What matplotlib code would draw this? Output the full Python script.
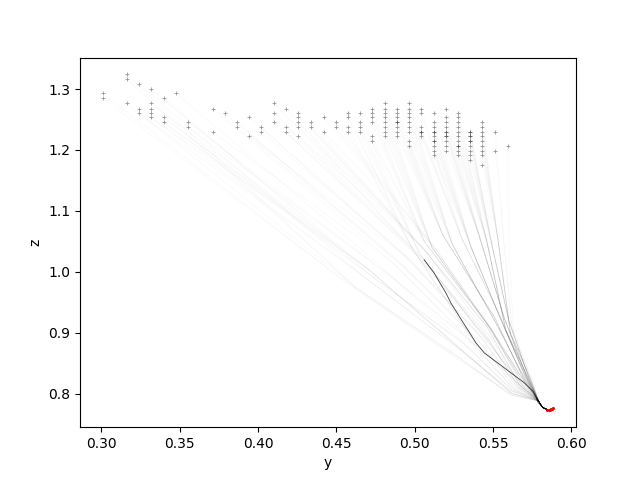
import numpy as np
import matplotlib
matplotlib.use('Agg')
import matplotlib.pyplot as plt

# start columns (y) and the start heights (z) found in each column
col_y = [0.3008, 0.3162, 0.3239, 0.3316, 0.3400, 0.3476, 0.3553, 0.3713,
         0.3790, 0.3867, 0.3944, 0.4021, 0.4104, 0.4181, 0.4258, 0.4335,
         0.4418, 0.4495, 0.4572, 0.4649, 0.4726, 0.4810, 0.4887, 0.4964,
         0.5041, 0.5124, 0.5201, 0.5278, 0.5355, 0.5432, 0.5515, 0.5592]
col_z = [
    [1.293, 1.285],
    [1.324, 1.316, 1.2766],
    [1.3077, 1.268, 1.260],
    [1.2995, 1.2766, 1.268, 1.260, 1.2537],
    [1.2848, 1.2537, 1.2454],
    [1.293],
    [1.2454, 1.2373],
    [1.268, 1.229],
    [1.260],
    [1.2454, 1.2373],
    [1.2537, 1.2226],
    [1.2373, 1.229],
    [1.2766, 1.260, 1.2454],
    [1.268, 1.2373, 1.229],
    [1.260, 1.2537, 1.2454, 1.2373, 1.2226],
    [1.2454, 1.2373],
    [1.2537, 1.229],
    [1.2454, 1.2373],
    [1.260, 1.2537, 1.2373, 1.229],
    [1.260, 1.2454, 1.2373, 1.229],
    [1.268, 1.260, 1.2537, 1.2454, 1.2226, 1.2143],
    [1.2766, 1.268, 1.260, 1.2537, 1.2454, 1.2373, 1.229, 1.2226],
    [1.268, 1.260, 1.2537, 1.2454, 1.2454, 1.2373, 1.229, 1.2226],
    [1.2766, 1.268, 1.260, 1.2537, 1.2454, 1.2373, 1.229, 1.2143, 1.2061],
    [1.268, 1.260, 1.2373, 1.229, 1.229, 1.2226],
    [1.260, 1.2454, 1.2373, 1.229, 1.229, 1.2226, 1.2143, 1.2143, 1.2061, 1.198, 1.1913],
    [1.268, 1.2537, 1.2454, 1.2373, 1.229, 1.229, 1.2226, 1.2226, 1.2143, 1.2061, 1.198],
    [1.260, 1.2537, 1.2454, 1.2373, 1.229, 1.2226, 1.2143, 1.2061, 1.2061, 1.198, 1.1913],
    [1.229, 1.229, 1.2226, 1.2226, 1.2143, 1.2143, 1.2061, 1.198, 1.1913, 1.183],
    [1.2454, 1.2373, 1.229, 1.2226, 1.2143, 1.2061, 1.198, 1.1913, 1.175],
    [1.229, 1.198],
    [1.2061],
]

# waypoints each column's paths pass through on the way down
knee1_y = [0.455, 0.462, 0.466, 0.470, 0.474, 0.478, 0.481, 0.486,
           0.489, 0.492, 0.494, 0.497, 0.500, 0.502, 0.505, 0.508,
           0.511, 0.514, 0.498, 0.503, 0.506, 0.511, 0.518, 0.524,
           0.530, 0.536, 0.541, 0.546, 0.550, 0.553, 0.557, 0.560]
knee1_z = [0.985, 0.975, 0.995, 1.005, 0.990, 1.010, 1.000, 1.015,
           1.020, 1.010, 1.025, 1.020, 1.035, 1.025, 1.040, 1.030,
           1.045, 1.035, 1.040, 1.030, 1.050, 1.040, 1.060, 1.045,
           1.055, 1.040, 1.060, 1.050, 1.035, 1.055, 1.045, 1.060]
knee2_y = [0.520, 0.528, 0.525, 0.533, 0.530, 0.537, 0.534, 0.540,
           0.538, 0.543, 0.540, 0.545, 0.543, 0.548, 0.546, 0.549,
           0.547, 0.551, 0.538, 0.542, 0.546, 0.549, 0.551, 0.553,
           0.554, 0.556, 0.557, 0.558, 0.560, 0.561, 0.562, 0.563]
knee2_z = [0.870, 0.860, 0.880, 0.865, 0.885, 0.870, 0.890, 0.875,
           0.895, 0.880, 0.900, 0.885, 0.905, 0.885, 0.910, 0.890,
           0.915, 0.895, 0.885, 0.900, 0.915, 0.905, 0.925, 0.910,
           0.930, 0.915, 0.925, 0.905, 0.920, 0.900, 0.910, 0.895]
knee3_y = [0.560, 0.561, 0.561, 0.562, 0.562, 0.563, 0.563, 0.564,
           0.564, 0.565, 0.565, 0.566, 0.566, 0.567, 0.567, 0.568,
           0.568, 0.569, 0.567, 0.568, 0.569, 0.570, 0.570, 0.571,
           0.571, 0.572, 0.572, 0.573, 0.573, 0.574, 0.574, 0.575]
knee3_z = [0.802, 0.798, 0.805, 0.800, 0.806, 0.803, 0.808, 0.805,
           0.810, 0.806, 0.811, 0.808, 0.812, 0.809, 0.814, 0.810,
           0.815, 0.812, 0.814, 0.816, 0.818, 0.819, 0.821, 0.820,
           0.823, 0.821, 0.824, 0.822, 0.825, 0.823, 0.826, 0.824]

# shared approach to the goal
approach_y = [0.5790, 0.5815, 0.5850]
approach_z = [0.7880, 0.7775, 0.7735]

# the one highlighted path
path_y = [0.5060, 0.5124, 0.5199, 0.5231, 0.5284, 0.5338, 0.5391, 0.5444,
          0.5530, 0.5615, 0.5700, 0.5754, 0.5776, 0.5786, 0.5818, 0.5850, 0.5882]
path_z = [1.0197, 0.9979, 0.9651, 0.9487, 0.9267, 0.9049, 0.8831, 0.8667,
          0.8503, 0.8339, 0.8175, 0.8038, 0.7930, 0.7859, 0.7766, 0.7728, 0.7766]

# end points (red)
end_y = [0.5845, 0.5860, 0.5875, 0.5885, 0.5855, 0.5870]
end_z = [0.7735, 0.7725, 0.7745, 0.7770, 0.7730, 0.7755]

fig, ax = plt.subplots(figsize=(6.4, 4.8), dpi=100)

for i, y0 in enumerate(col_y):
    for z0 in col_z[i]:
        ys = [y0, knee1_y[i], knee2_y[i], knee3_y[i]] + approach_y
        zs = [z0, knee1_z[i], knee2_z[i], knee3_z[i]] + approach_z
        ax.plot(ys, zs, color='k', alpha=0.022, lw=0.6)

ax.plot(path_y, path_z, color='k', alpha=0.75, lw=0.6)

for i, y0 in enumerate(col_y):
    ax.plot([y0] * len(col_z[i]), col_z[i], '+', color='k', alpha=0.4,
            ms=2.5, mew=0.6)

ax.plot(end_y, end_z, 'o', color='red', ms=2.2, mew=0)

ax.set_xlabel('y')
ax.set_ylabel('z')

fig.savefig('out.png', dpi=100)
